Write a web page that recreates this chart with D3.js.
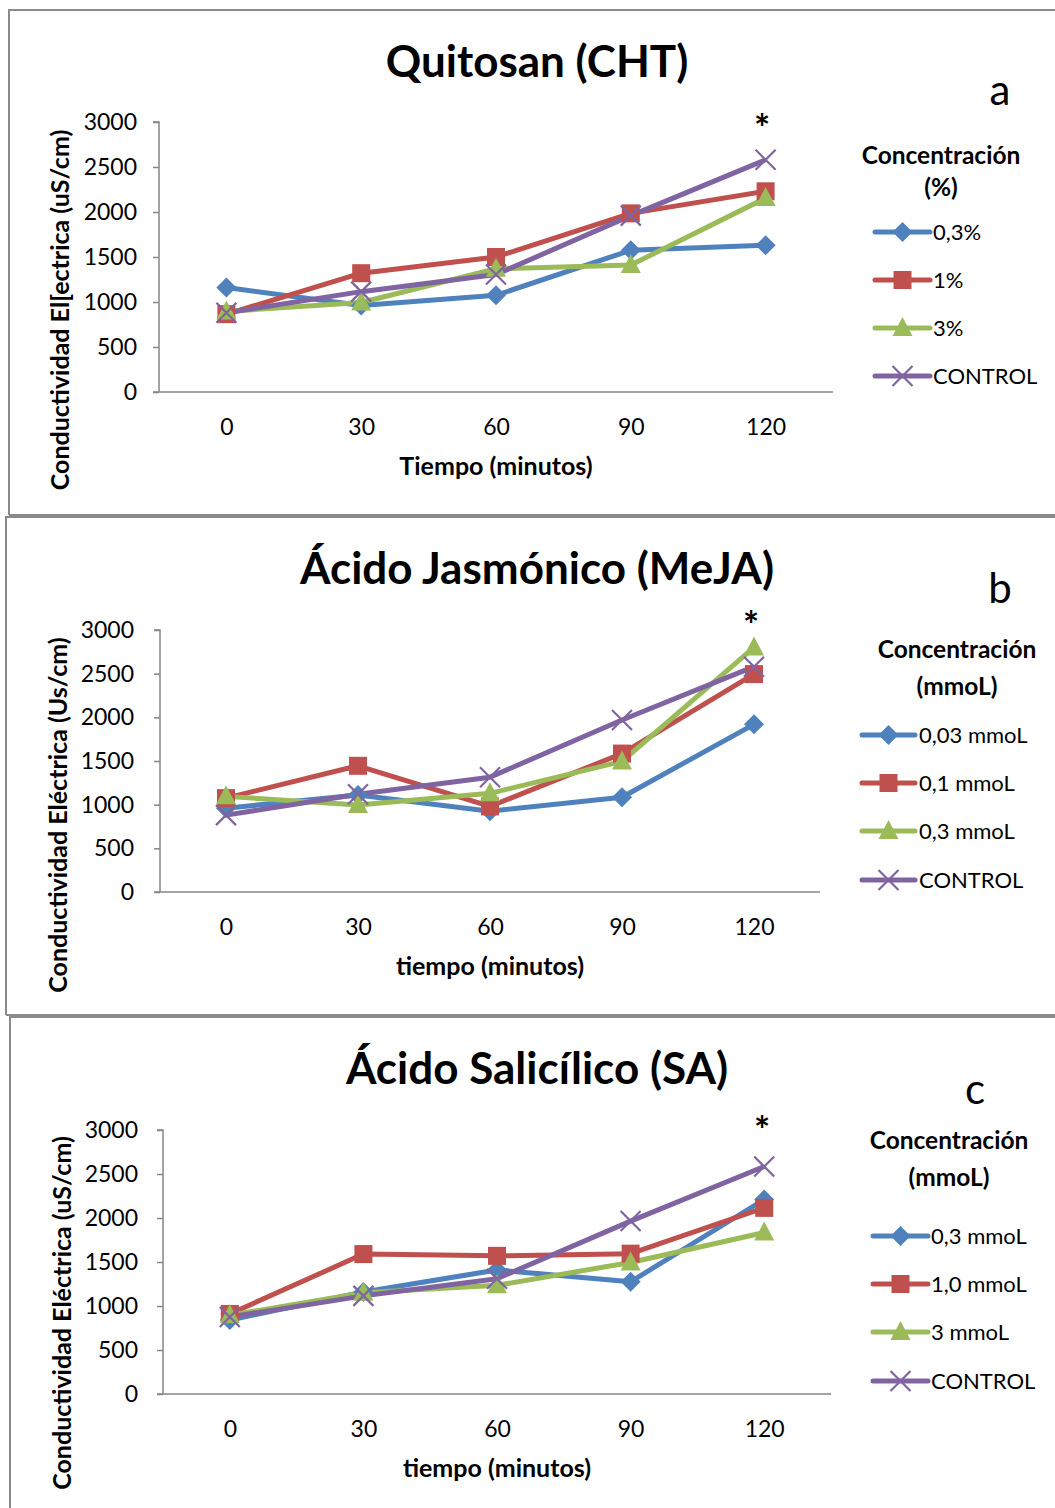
<!DOCTYPE html>
<html><head><meta charset="utf-8">
<script src="https://cdn.jsdelivr.net/npm/d3@7"></script>
<style>body{margin:0;background:#fff}svg{display:block}text{font-family:Lato,"Open Sans",sans-serif}</style>
</head><body>
<svg id="c" width="1055" height="1508"></svg>
<script>
const times = ["0","30","60","90","120"];
const yTicks = [0,500,1000,1500,2000,2500,3000];
const colors = ["#4F81BD","#C0504D","#9BBB59","#8064A2"];
const markers = ["diamond","square","triangle","x"];

// Panel a: Quitosan
const titleA = "Quitosan (CHT)";
const namesA = ["0,3%","1%","3%","CONTROL"];
const cht03 = [1160,960,1075,1575,1630];
const cht1 = [865,1320,1500,1985,2230];
const cht3 = [895,995,1370,1410,2155];
const chtCtrl = [880,1115,1305,1960,2580];

// Panel b: MeJA
const titleB = "Ácido Jasmónico (MeJA)";
const namesB = ["0,03 mmoL","0,1 mmoL","0,3 mmoL","CONTROL"];
const meja003 = [960,1110,925,1085,1920];
const meja01 = [1075,1445,980,1585,2495];
const meja03 = [1095,995,1130,1495,2800];
const mejaCtrl = [880,1120,1315,1970,2580];

// Panel c: SA
const titleC = "Ácido Salicílico (SA)";
const namesC = ["0,3 mmoL","1,0 mmoL","3 mmoL","CONTROL"];
const sa03 = [840,1160,1410,1275,2210];
const sa1 = [910,1590,1570,1595,2115];
const sa3 = [895,1150,1235,1495,1835];
const saCtrl = [875,1115,1310,1965,2585];

const svg = d3.select("#c");

const panels = [
  {title:titleA, letter:"a", series:[cht03,cht1,cht3,chtCtrl], names:namesA,
   xTitle:"Tiempo (minutos)", yTitle:"Conductividad El[ectrica (uS/cm)", legTitle:["Concentración","(%)"],
   box:{x:9,y:10,b:515}, axX0:159, axX1:833, y0:392, y3:122, titleY:77, titleX:537, letX:1000, letY:105,
   tickLabX:137, xLabY:435, xTitleY:475, yTitleX:69, yTitleY:310, legCx:941, legT1:164, legT2:196,
   legY:[232,280,328,376], legL0:875, legL1:930, legTx:933, star:[762,142]},
  {title:titleB, letter:"b", series:[meja003,meja01,meja03,mejaCtrl], names:namesB,
   xTitle:"tiempo (minutos)", yTitle:"Conductividad Eléctrica (Us/cm)", legTitle:["Concentración","(mmoL)"],
   box:{x:6,y:517,b:1015}, axX0:160, axX1:820, y0:892, y3:630, titleY:584, titleX:537, letX:1000, letY:603,
   tickLabX:134, xLabY:935, xTitleY:975, yTitleX:67, yTitleY:815, legCx:957, legT1:658, legT2:695,
   legY:[735,783,831,880], legL0:862, legL1:915, legTx:919, star:[751,639]},
  {title:titleC, letter:"c", series:[sa03,sa1,sa3,saCtrl], names:namesC,
   xTitle:"tiempo (minutos)", yTitle:"Conductividad Eléctrica (uS/cm)", legTitle:["Concentración","(mmoL)"],
   box:{x:10,y:1017,b:1520}, axX0:163, axX1:831, y0:1394, y3:1130, titleY:1084, titleX:537, letX:975, letY:1104,
   tickLabX:138, xLabY:1437, xTitleY:1477, yTitleX:71, yTitleY:1313, legCx:949, legT1:1149, legT2:1186,
   legY:[1236,1284,1332,1381], legL0:873, legL1:928, legTx:931, star:[762,1144]}
];

function drawMarker(g, type, x, y, color){
  if(type==="diamond"){
    g.append("path").attr("d",`M${x},${y-10}L${x+10},${y}L${x},${y+10}L${x-10},${y}Z`).attr("fill",color);
  } else if(type==="square"){
    g.append("rect").attr("x",x-9).attr("y",y-9).attr("width",18).attr("height",18).attr("fill",color);
  } else if(type==="triangle"){
    g.append("path").attr("d",`M${x},${y-11}L${x+10},${y+8}L${x-10},${y+8}Z`).attr("fill",color);
  } else {
    g.append("path").attr("d",`M${x-10},${y-10}L${x+10},${y+10}M${x+10},${y-10}L${x-10},${y+10}`)
      .attr("stroke",color).attr("stroke-width",2.2).attr("fill","none");
  }
}

panels.forEach(p=>{
  const g = svg.append("g");
  // frame
  g.append("path").attr("d",`M${p.box.x},${p.box.b}V${p.box.y}H1060`)
    .attr("fill","none").attr("stroke","#8a8a8a").attr("stroke-width",2);
  g.append("path").attr("d",`M${p.box.x},${p.box.b}H1060`)
    .attr("fill","none").attr("stroke","#8a8a8a").attr("stroke-width",2);

  const x = d3.scalePoint().domain(times).range([p.axX0,p.axX1]).padding(0.5);
  const y = d3.scaleLinear().domain([0,3000]).range([p.y0,p.y3]);

  // title
  g.append("text").attr("x",p.titleX).attr("y",p.titleY).attr("text-anchor","middle")
    .attr("font-size",44).attr("font-weight","bold").text(p.title);
  g.append("text").attr("x",p.letX).attr("y",p.letY).attr("text-anchor","middle")
    .attr("font-size",42).text(p.letter);

  // y axis
  const ya = g.append("g").attr("transform",`translate(${p.axX0},0)`)
    .call(d3.axisLeft(y).tickValues(yTicks).tickSize(6).tickPadding(p.axX0-6-p.tickLabX).tickFormat(d3.format("d")));
  ya.selectAll("path,line").attr("stroke","#868686").attr("stroke-width",1.5);
  ya.selectAll("text").attr("font-size",23).attr("fill","#000").style("font-family","Lato,sans-serif");
  ya.select(".domain").attr("d",`M-6,${p.y3}H0V${p.y0}`);

  // x axis
  const xa = g.append("g").attr("transform",`translate(0,${p.y0})`)
    .call(d3.axisBottom(x).tickSize(0).tickPadding(p.xLabY-p.y0-16));
  xa.select(".domain").attr("d",`M${p.axX0-6},0H${p.axX1}`).attr("stroke","#868686").attr("stroke-width",1.5);
  xa.selectAll("text").attr("font-size",23).attr("fill","#000").style("font-family","Lato,sans-serif");

  g.append("text").attr("x",x("60")).attr("y",p.xTitleY).attr("text-anchor","middle")
    .attr("font-size",25).attr("font-weight","bold").text(p.xTitle);
  g.append("text").attr("transform",`translate(${p.yTitleX},${p.yTitleY}) rotate(-90)`)
    .attr("text-anchor","middle").attr("font-size",25).attr("font-weight","bold").text(p.yTitle);

  // series
  const line = d3.line().x((d,i)=>x(times[i])).y(d=>y(d));
  p.series.forEach((s,k)=>{
    g.append("path").datum(s).attr("d",line).attr("fill","none")
      .attr("stroke",colors[k]).attr("stroke-width",5).attr("stroke-linejoin","round");
  });
  p.series.forEach((s,k)=>{
    s.forEach((v,i)=>drawMarker(g,markers[k],x(times[i]),y(v),colors[k]));
  });

  // asterisk
  g.append("text").attr("x",p.star[0]).attr("y",p.star[1]).attr("text-anchor","middle")
    .attr("font-size",38).attr("font-weight","bold").text("*");

  // legend
  g.append("text").attr("x",p.legCx).attr("y",p.legT1).attr("text-anchor","middle")
    .attr("font-size",24.5).attr("font-weight","bold").text(p.legTitle[0]);
  g.append("text").attr("x",p.legCx).attr("y",p.legT2).attr("text-anchor","middle")
    .attr("font-size",24.5).attr("font-weight","bold").text(p.legTitle[1]);
  p.names.forEach((n,k)=>{
    const ly = p.legY[k];
    g.append("line").attr("x1",p.legL0).attr("x2",p.legL1).attr("y1",ly).attr("y2",ly)
      .attr("stroke",colors[k]).attr("stroke-width",5).attr("stroke-linecap","round");
    drawMarker(g,markers[k],(p.legL0+p.legL1)/2,ly,colors[k]);
    g.append("text").attr("x",p.legTx).attr("y",ly+8).attr("font-size",22).text(n);
  });
});
</script>
</body></html>
